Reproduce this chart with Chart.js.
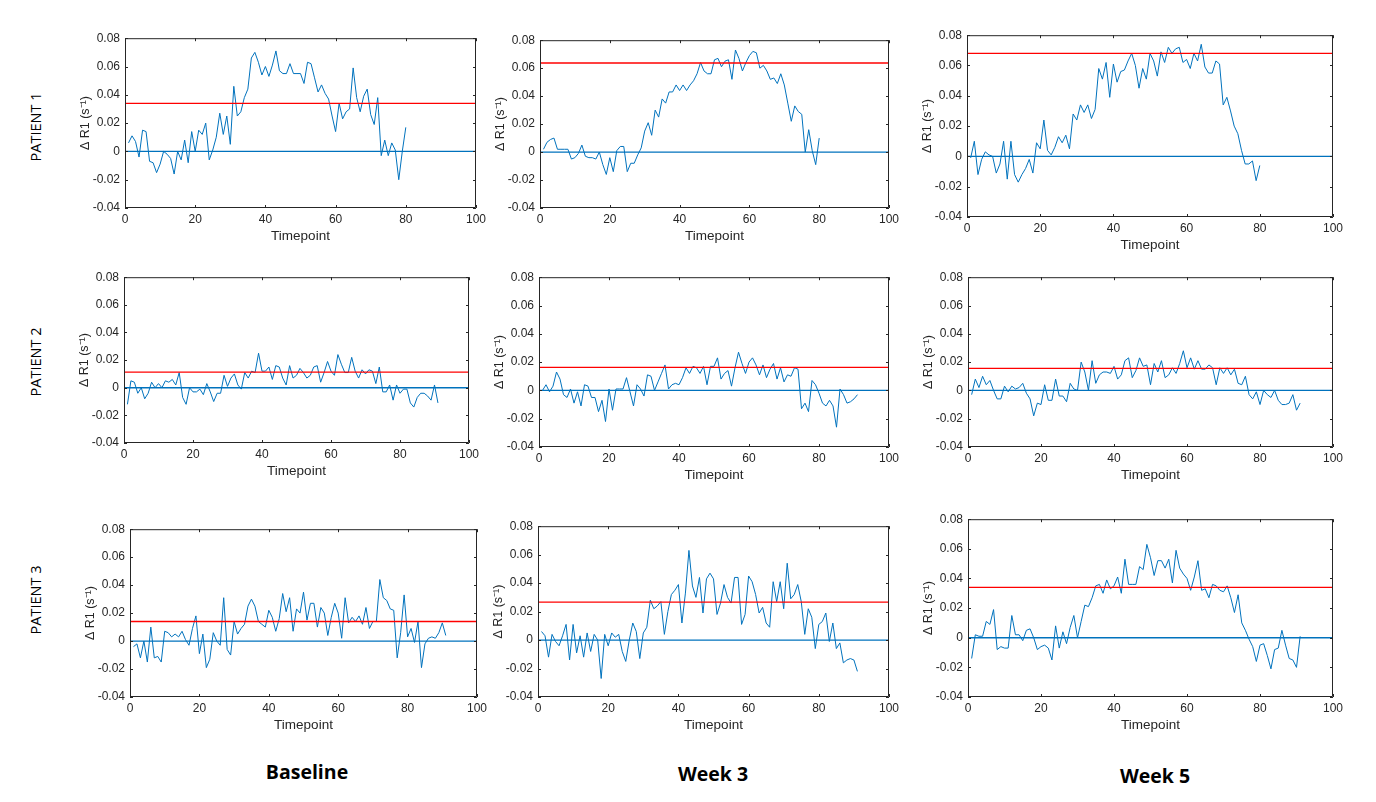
<!DOCTYPE html>
<html>
<head>
<meta charset="utf-8">
<script src="https://cdn.jsdelivr.net/npm/chart.js@4.4.0/dist/chart.umd.min.js"></script>
<style>
  body { margin: 0; background: #fff; width: 1376px; height: 802px; position: relative; overflow: hidden;
         font-family: "Liberation Sans", Arial, sans-serif; }
  canvas { position: absolute; }
  .row-label { position: absolute; font-family: "Open Sans", "Liberation Sans", sans-serif; font-size: 14.5px;
               font-weight: 400; color: #000; white-space: nowrap; transform: translate(-50%, -50%) rotate(-90deg); }
  .col-label { position: absolute; font-family: "Open Sans", "Liberation Sans", sans-serif; font-size: 19.5px;
               font-weight: 700; color: #000; white-space: nowrap; transform: translate(-50%, -50%); }
</style>
</head>
<body>
<script>
// delta R1 per timepoint
const p1Baseline = [0.006,0.011,0.007,-0.004,0.015,0.014,-0.007,-0.008,-0.015,-0.009,
  0.000,-0.002,-0.005,-0.016,0.000,-0.006,0.008,-0.008,0.014,0.000,
  0.015,0.012,0.020,-0.006,0.001,0.010,0.027,0.012,0.025,0.005,
  0.046,0.025,0.028,0.038,0.044,0.066,0.070,0.063,0.054,0.060,
  0.053,0.061,0.071,0.057,0.055,0.055,0.062,0.055,0.055,0.055,
  0.048,0.063,0.062,0.052,0.042,0.047,0.041,0.037,0.025,0.014,
  0.034,0.023,0.028,0.030,0.059,0.038,0.028,0.039,0.044,0.026,
  0.019,0.038,-0.003,0.008,-0.003,0.006,0.001,-0.020,0.000,0.017];
const p1Week3 = [0.002,0.007,0.009,0.010,0.002,0.002,0.002,0.002,-0.005,-0.004,
  -0.001,0.005,-0.003,-0.004,-0.004,-0.005,0.000,-0.009,-0.016,-0.004,
  -0.014,0.001,0.004,0.004,-0.014,-0.008,-0.008,-0.002,0.003,0.015,
  0.021,0.012,0.030,0.025,0.038,0.035,0.043,0.043,0.048,0.044,
  0.048,0.044,0.048,0.051,0.056,0.064,0.058,0.056,0.056,0.066,
  0.067,0.061,0.065,0.066,0.052,0.073,0.067,0.058,0.064,0.069,
  0.072,0.071,0.060,0.062,0.058,0.052,0.053,0.049,0.056,0.048,
  0.035,0.022,0.033,0.029,0.027,0.000,0.016,0.001,-0.009,0.010];
const p1Week5 = [-0.001,0.010,-0.012,-0.002,0.003,0.001,0.000,-0.011,-0.005,0.010,
  -0.015,0.010,-0.012,-0.017,-0.012,-0.008,-0.002,-0.011,0.009,0.005,
  0.024,0.004,0.001,0.006,0.013,0.009,0.014,0.005,0.028,0.024,
  0.034,0.029,0.034,0.025,0.031,0.058,0.051,0.062,0.039,0.061,
  0.049,0.056,0.057,0.063,0.068,0.060,0.045,0.058,0.051,0.068,
  0.063,0.053,0.069,0.062,0.072,0.068,0.071,0.072,0.062,0.064,
  0.058,0.068,0.063,0.074,0.059,0.055,0.055,0.063,0.061,0.034,
  0.039,0.030,0.020,0.015,0.004,-0.005,-0.005,-0.003,-0.016,-0.006];
const p2Baseline = [-0.012,0.005,0.004,-0.004,0.000,-0.008,-0.004,0.004,0.000,0.003,
  0.000,0.005,0.004,0.006,0.002,0.011,-0.007,-0.012,0.000,-0.003,
  -0.003,-0.001,-0.005,0.003,-0.003,-0.010,-0.004,-0.004,0.009,0.001,
  0.007,0.010,0.002,-0.001,0.011,0.007,0.012,0.011,0.025,0.012,
  0.012,0.015,0.006,0.016,0.015,0.007,0.002,0.016,0.007,0.009,
  0.014,0.011,0.007,0.009,0.015,0.016,0.004,0.011,0.019,0.012,
  0.009,0.024,0.017,0.011,0.011,0.022,0.012,0.007,0.013,0.010,
  0.013,0.012,0.003,0.015,-0.003,-0.003,0.002,-0.009,0.002,-0.004,
  -0.001,-0.001,-0.011,-0.014,-0.007,-0.004,-0.004,-0.006,-0.009,0.002,
  -0.011];
const p2Week3 = [0.000,0.004,-0.001,0.003,0.013,0.008,-0.003,-0.005,0.001,-0.009,
  -0.001,-0.011,0.004,0.003,-0.005,-0.005,-0.015,-0.007,-0.022,0.001,
  -0.014,0.001,0.001,0.001,0.009,-0.001,-0.011,0.004,0.001,-0.004,
  0.011,0.010,0.000,0.006,0.012,0.018,0.001,0.004,0.005,0.004,
  0.009,0.016,0.012,0.017,0.016,0.012,0.017,0.004,0.017,0.017,
  0.023,0.008,0.012,0.014,0.003,0.016,0.027,0.019,0.012,0.020,
  0.023,0.018,0.011,0.018,0.009,0.015,0.019,0.008,0.016,0.006,
  0.011,0.010,0.016,0.015,-0.013,-0.009,-0.015,0.007,0.004,-0.002,
  -0.009,-0.011,-0.007,-0.011,-0.026,0.001,-0.003,-0.009,-0.008,-0.006,
  -0.003];
const p2Week5 = [-0.003,0.008,0.002,0.010,0.004,0.007,0.000,-0.006,-0.006,0.003,
  -0.001,0.003,0.001,0.002,0.005,-0.002,-0.006,-0.018,-0.009,-0.010,
  0.004,-0.007,-0.007,0.008,-0.004,-0.004,-0.008,0.005,0.001,0.000,
  0.020,0.013,0.000,0.021,0.005,0.011,0.013,0.013,0.012,0.017,
  0.008,0.011,0.021,0.023,0.009,0.014,0.023,0.017,0.018,0.004,
  0.019,0.013,0.021,0.009,0.011,0.016,0.012,0.019,0.028,0.016,
  0.023,0.015,0.021,0.015,0.015,0.018,0.016,0.004,0.016,0.012,
  0.016,0.011,0.015,0.005,0.004,0.010,-0.003,-0.006,-0.001,-0.010,
  0.000,-0.003,-0.005,0.000,-0.007,-0.010,-0.010,-0.009,-0.003,-0.014,
  -0.009];
const p3Baseline = [-0.004,-0.002,-0.012,0.000,-0.015,0.010,-0.012,-0.011,-0.015,0.007,
  0.006,0.003,0.005,0.003,0.007,0.001,-0.003,0.009,0.018,-0.009,
  0.005,-0.019,-0.013,0.006,0.000,-0.003,0.031,-0.006,-0.010,0.014,
  0.005,0.009,0.012,0.025,0.030,0.025,0.014,0.012,0.010,0.022,
  0.017,0.007,0.016,0.034,0.021,0.031,0.007,0.023,0.020,0.035,
  0.015,0.027,0.027,0.010,0.024,0.020,0.004,0.017,0.027,0.020,
  0.002,0.031,0.013,0.017,0.014,0.018,0.012,0.024,0.009,0.014,
  0.014,0.044,0.031,0.029,0.023,0.022,-0.012,0.006,0.033,0.003,
  0.009,-0.001,0.014,-0.019,-0.002,0.002,0.003,0.002,0.006,0.013,
  0.004];
const p3Week3 = [0.006,0.003,-0.012,0.004,-0.001,-0.004,0.003,0.011,-0.014,0.011,
  -0.009,0.003,-0.012,0.005,-0.008,0.004,0.000,-0.027,0.004,-0.004,
  0.005,0.002,0.004,-0.008,-0.015,0.000,0.012,0.006,-0.013,0.005,
  0.009,0.028,0.022,0.024,0.027,0.004,0.020,0.032,0.035,0.039,
  0.012,0.033,0.063,0.038,0.030,0.044,0.019,0.043,0.047,0.043,
  0.018,0.026,0.039,0.030,0.026,0.044,0.044,0.011,0.018,0.045,
  0.041,0.032,0.019,0.023,0.012,0.009,0.041,0.027,0.041,0.022,
  0.054,0.029,0.032,0.039,0.027,0.004,0.022,0.016,-0.006,0.011,
  0.013,0.019,-0.001,0.012,-0.006,-0.002,-0.016,-0.014,-0.013,-0.014,
  -0.022];
const p3Week5 = [-0.014,0.002,0.001,0.001,0.011,0.009,0.019,-0.008,-0.006,-0.007,
  -0.007,0.015,0.002,0.002,-0.002,0.005,0.006,0.000,-0.008,-0.006,
  -0.005,-0.007,-0.015,0.008,-0.007,0.004,-0.004,0.007,0.015,0.000,
  0.011,0.022,0.021,0.027,0.035,0.036,0.030,0.039,0.033,0.035,
  0.041,0.030,0.053,0.036,0.036,0.036,0.048,0.046,0.063,0.054,
  0.042,0.052,0.052,0.047,0.053,0.037,0.059,0.047,0.043,0.040,
  0.032,0.041,0.052,0.032,0.033,0.027,0.036,0.035,0.032,0.031,
  0.035,0.027,0.017,0.029,0.010,0.005,-0.001,-0.006,-0.016,-0.005,
  -0.004,-0.012,-0.021,-0.008,-0.007,0.005,-0.005,-0.014,-0.015,-0.020,
  0.001];

// red reference level for each panel (Baseline, Week 3, Week 5)
const p1Means = [0.034, 0.0637, 0.068];
const p2Means = [0.0113, 0.0163, 0.0156];
const p3Means = [0.014, 0.0266, 0.034];

const patients = ['PATIENT 1', 'PATIENT 2', 'PATIENT 3'];
const visits = ['Baseline', 'Week 3', 'Week 5'];
const xTicks = [0, 20, 40, 60, 80, 100];
const yTicks = [-0.04, -0.02, 0, 0.02, 0.04, 0.06, 0.08];

const series = [p1Baseline, p1Week3, p1Week5, p2Baseline, p2Week3, p2Week5, p3Baseline, p3Week3, p3Week5];
const means = [...p1Means, ...p2Means, ...p3Means];

// plot area of each panel on the page [left, top, right, bottom]
const boxes = [
  [125, 34, 476, 208], [540, 36, 889, 208], [967, 31, 1333, 217],
  [124, 273, 469, 443], [539, 273, 889, 447], [968, 273, 1333, 447],
  [130, 525, 477, 697], [538, 522, 889, 697], [968, 515, 1333, 697]
];
const rowLabelPos = [[35, 127], [35, 362], [35, 600]];
const colLabelPos = [[307, 771], [713, 773], [1155, 775]];

const Y_AXIS_W = 47, X_AXIS_H = 36, PAD_TOP = 8, PAD_RIGHT = 16;
const INK = '#262626';

Chart.defaults.font.family = '"Liberation Sans", Arial, sans-serif';

// matlab-like box with inward ticks
const framePlugin = {
  id: 'frame',
  afterDraw(chart) {
    const { ctx, chartArea: a, scales } = chart;
    ctx.save();
    ctx.strokeStyle = INK;
    ctx.lineWidth = 1;
    ctx.beginPath();
    ctx.rect(a.left + 0.5, a.top + 0.5, a.right - a.left - 1, a.bottom - a.top - 1);
    xTicks.forEach(v => {
      const px = Math.round(scales.x.getPixelForValue(v)) + 0.5;
      ctx.moveTo(px, a.bottom); ctx.lineTo(px, a.bottom - 3);
      ctx.moveTo(px, a.top); ctx.lineTo(px, a.top + 3);
    });
    yTicks.forEach(v => {
      const py = Math.round(scales.y.getPixelForValue(v)) + 0.5;
      ctx.moveTo(a.left, py); ctx.lineTo(a.left + 3, py);
      ctx.moveTo(a.right, py); ctx.lineTo(a.right - 3, py);
    });
    ctx.stroke();
    ctx.restore();
  }
};

function fmtY(v) {
  if (Math.abs(v) < 1e-9) return '0';
  return v.toFixed(2);
}

function makePanel(i) {
  const [l, t, r, b] = boxes[i];
  const w = (r - l) + Y_AXIS_W + PAD_RIGHT;
  const h = (b - t) + PAD_TOP + X_AXIS_H;
  const canvas = document.createElement('canvas');
  canvas.width = w; canvas.height = h;
  canvas.style.left = (l - Y_AXIS_W) + 'px';
  canvas.style.top = (t - PAD_TOP) + 'px';
  canvas.style.width = w + 'px'; canvas.style.height = h + 'px';
  document.body.appendChild(canvas);

  const pts = series[i].map((v, k) => ({ x: k + 1, y: v }));
  const m = means[i];

  new Chart(canvas, {
    type: 'line',
    data: {
      datasets: [
        { data: pts, borderColor: '#0072BD', borderWidth: 1, order: 3 },
        { data: [{ x: 0, y: 0 }, { x: 100, y: 0 }], borderColor: '#0072BD', borderWidth: 1.3, order: 2 },
        { data: [{ x: 0, y: m }, { x: 100, y: m }], borderColor: '#FF0000', borderWidth: 1.3, order: 1 }
      ]
    },
    options: {
      responsive: false,
      animation: false,
      layout: { padding: { left: 0, top: PAD_TOP, right: PAD_RIGHT, bottom: 0 } },
      elements: { point: { radius: 0 }, line: { tension: 0 } },
      plugins: { legend: { display: false }, tooltip: { enabled: false } },
      scales: {
        x: {
          type: 'linear', min: 0, max: 100,
          afterBuildTicks: s => { s.ticks = xTicks.map(v => ({ value: v })); },
          ticks: { autoSkip: false, maxRotation: 0, padding: 4, color: INK, font: { size: 12 } },
          grid: { display: false, drawTicks: false },
          border: { display: false },
          title: { display: true, text: 'Timepoint', color: INK, font: { size: 13.5 }, padding: 0 },
          afterFit: s => { s.height = X_AXIS_H; }
        },
        y: {
          type: 'linear', min: -0.04, max: 0.08,
          afterBuildTicks: s => { s.ticks = yTicks.map(v => ({ value: v })); },
          ticks: { autoSkip: false, padding: 5, color: INK, font: { size: 12 }, callback: fmtY },
          grid: { display: false, drawTicks: false },
          border: { display: false },
          title: { display: true, text: 'Δ R1 (s⁻¹)', color: INK, font: { size: 12.5 }, padding: 0 },
          afterFit: s => { s.width = Y_AXIS_W; }
        }
      }
    },
    plugins: [framePlugin]
  });
}

for (let i = 0; i < series.length; i++) makePanel(i);

patients.forEach((p, i) => {
  const d = document.createElement('div');
  d.className = 'row-label';
  d.textContent = p;
  d.style.left = rowLabelPos[i][0] + 'px';
  d.style.top = rowLabelPos[i][1] + 'px';
  document.body.appendChild(d);
});
visits.forEach((v, i) => {
  const d = document.createElement('div');
  d.className = 'col-label';
  d.textContent = v;
  d.style.left = colLabelPos[i][0] + 'px';
  d.style.top = colLabelPos[i][1] + 'px';
  document.body.appendChild(d);
});
</script>
</body>
</html>
